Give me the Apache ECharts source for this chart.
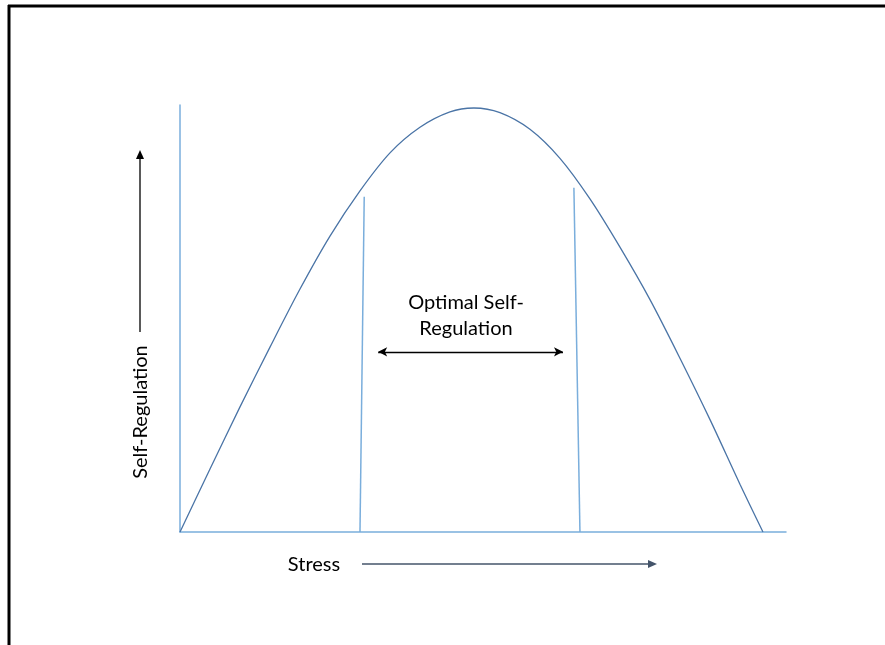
<!DOCTYPE html>
<html>
<head>
<meta charset="utf-8">
<script src="https://cdn.jsdelivr.net/npm/echarts@6/dist/echarts.min.js"></script>
<style>html,body{margin:0;padding:0;background:#fff}#c{width:885px;height:645px}</style>
</head>
<body>
<div id="c"></div>
<script>
// Curve: stress (x, 0-100) vs self-regulation (y, 0-100)
const curveX = [0, 4.95, 9.9, 14.85, 19.8, 24.75, 29.7, 34.65, 39.6, 44.55, 48.5, 52.8, 57.75, 62.7, 67.65, 72.6, 77.6, 82.5, 87.5, 92.4, 96.2];
const curveY = [0, 14.75, 29.3, 43.3, 56.9, 69.3, 79.9, 88.8, 94.8, 98.4, 99.3, 98.2, 94.3, 87.5, 78.0, 66.7, 54.3, 40.7, 26.2, 11.2, 0];
// Optimal zone boundary lines [x, y] top and bottom
const leftBoundX = [30.4, 29.7];
const leftBoundY = [78.5, 0];
const rightBoundX = [65.0, 66.0];
const rightBoundY = [80.6, 0];
// Double arrow span
const optimalArrowX = [32.7, 63.2];
const optimalArrowY = 42.2;
const labelOptimal = 'Optimal Self-\nRegulation';
const labelX = 'Stress';
const labelY = 'Self-Regulation';

const chart = echarts.init(document.getElementById('c'), null, {renderer: 'canvas'});
const font = 'Lato, "Open Sans", sans-serif';
const axisCol = '#7AAEDC';
const curveCol = '#4A74A6';

function pairs(xs, ys) { return xs.map((x, i) => [x, ys[i]]); }

chart.setOption({
  animation: false,
  grid: {left: 180, top: 105, width: 606, height: 427},
  xAxis: {type: 'value', min: 0, max: 100, axisLine: {show: true, lineStyle: {color: axisCol, width: 1.5}},
          axisTick: {show: false}, axisLabel: {show: false}, splitLine: {show: false}},
  yAxis: {type: 'value', min: 0, max: 100, axisLine: {show: true, lineStyle: {color: axisCol, width: 1.5}},
          axisTick: {show: false}, axisLabel: {show: false}, splitLine: {show: false}},
  series: [
    {type: 'line', data: pairs(curveX, curveY), smooth: 0.3, symbol: 'none',
     lineStyle: {color: curveCol, width: 1.3}},
    {type: 'line', data: pairs(leftBoundX, leftBoundY), symbol: 'none',
     lineStyle: {color: axisCol, width: 1.5}},
    {type: 'line', data: pairs(rightBoundX, rightBoundY), symbol: 'none',
     lineStyle: {color: axisCol, width: 1.5}},
    {type: 'line', data: [], symbol: 'none',
     markLine: {silent: true, symbol: ['arrow', 'arrow'], symbolSize: [7, 9],
       label: {show: false},
       lineStyle: {color: '#000', width: 1.3, type: 'solid'},
       data: [[{coord: [optimalArrowX[0], optimalArrowY]}, {coord: [optimalArrowX[1], optimalArrowY]}]]}}
  ],
  graphic: [
    {type: 'line', shape: {x1: 8, y1: 6, x2: 885, y2: 6}, style: {stroke: '#000', lineWidth: 3}},
    {type: 'line', shape: {x1: 9, y1: 5, x2: 9, y2: 645}, style: {stroke: '#000', lineWidth: 3}},
    {type: 'text', x: 466, y: 316, style: {text: labelOptimal, font: '20px ' + font, fill: '#000',
      textAlign: 'center', textVerticalAlign: 'middle', lineHeight: 26}},
    {type: 'text', x: 314, y: 565, style: {text: labelX, font: '20px ' + font, fill: '#000',
      textAlign: 'center', textVerticalAlign: 'middle'}},
    {type: 'line', shape: {x1: 362, y1: 564, x2: 650, y2: 564}, style: {stroke: '#44546A', lineWidth: 1.3}},
    {type: 'polygon', shape: {points: [[657, 564], [648, 560], [648, 568]]}, style: {fill: '#44546A'}},
    {type: 'text', x: 141, y: 412, rotation: Math.PI / 2, style: {text: labelY, font: '20px ' + font, fill: '#000',
      textAlign: 'center', textVerticalAlign: 'middle'}},
    {type: 'line', shape: {x1: 140, y1: 332, x2: 140, y2: 158}, style: {stroke: '#000', lineWidth: 1.3}},
    {type: 'polygon', shape: {points: [[140, 150], [136, 159], [144, 159]]}, style: {fill: '#000'}}
  ]
});
</script>
</body>
</html>
